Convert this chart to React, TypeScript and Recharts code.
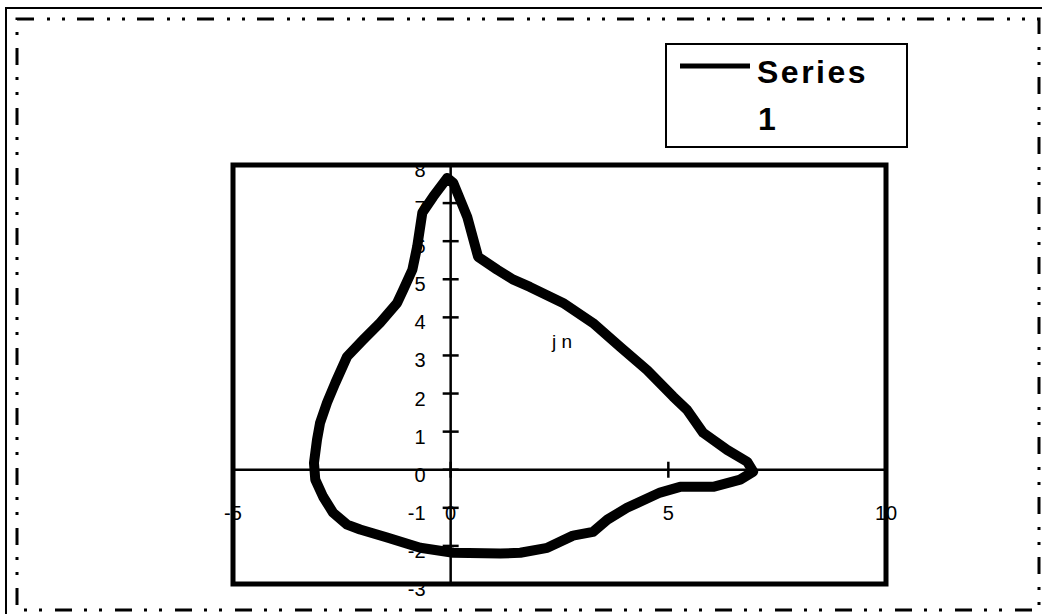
import { LineChart, Line, XAxis, YAxis, ReferenceArea, ReferenceLine, ReferenceDot, Legend } from 'recharts'

// outline of the closed curve, traced clockwise from the top point
const xValues = [
  -0.08, 0.06, 0.38, 0.63, 1.07, 1.44, 1.82, 2.58, 3.27, 3.89, 4.51, 5.11, 5.43,
  5.8, 6.35, 6.81, 6.95, 6.65, 6.03, 5.27, 4.81, 4.05, 3.6, 3.27, 2.81, 2.22,
  1.6, 1.14, 0.06, -0.7, -1.46, -2.08, -2.38, -2.7, -2.93, -3.11, -3.14, -3.07,
  -3.0, -2.84, -2.65, -2.38, -2.01, -1.62, -1.23, -1.09, -0.88, -0.77, -0.65,
  -0.4, -0.08,
]
const yValues = [
  7.66, 7.53, 6.64, 5.59, 5.25, 4.99, 4.8, 4.38, 3.85, 3.23, 2.62, 1.92, 1.57,
  0.97, 0.52, 0.21, -0.05, -0.26, -0.45, -0.45, -0.6, -1.0, -1.31, -1.63, -1.73,
  -2.05, -2.18, -2.2, -2.18, -2.05, -1.78, -1.57, -1.44, -1.13, -0.71, -0.26,
  0.18, 0.79, 1.23, 1.76, 2.28, 2.97, 3.41, 3.86, 4.38, 4.72, 5.25, 5.85, 6.75,
  7.17, 7.66,
]

const xTicks = [-5, 0, 5, 10]
const yTicks = [-3, -2, -1, 0, 1, 2, 3, 4, 5, 6, 7, 8]
const seriesName = 'Series 1'
const noteText = 'j n'
const noteX = 2.56
const noteY = 3.36

const X_MIN = -5
const X_MAX = 10
const Y_MIN = -3
const Y_MAX = 8

const W = 1042
const H = 614
const M = { top: 165, right: 156, bottom: 20, left: 223 }
const AXIS_SIZE = 10
const PLOT_LEFT = M.left + AXIS_SIZE
const PLOT_TOP = M.top
const PLOT_W = W - PLOT_LEFT - M.right
const PLOT_H = H - M.top - M.bottom - AXIS_SIZE
// where the zero lines sit, used to put the tick labels next to them
const ZERO_X = PLOT_LEFT + ((0 - X_MIN) / (X_MAX - X_MIN)) * PLOT_W
const ZERO_Y = PLOT_TOP + ((Y_MAX - 0) / (Y_MAX - Y_MIN)) * PLOT_H

const FONT = '"Liberation Sans", Arial, sans-serif'

const data = xValues.map((x, i) => ({ x, y: yValues[i] }))

function XTick(props: any) {
  const { x, payload } = props
  return (
    <g>
      <line x1={x} x2={x} y1={ZERO_Y - 8} y2={ZERO_Y + 8} stroke="#000" strokeWidth={2.5} />
      <text x={x} y={ZERO_Y + 50} textAnchor="middle" fontSize={20} fontFamily={FONT} fill="#000">
        {payload.value}
      </text>
    </g>
  )
}

function YTick(props: any) {
  const { y, payload } = props
  return (
    <g>
      <line x1={ZERO_X - 8} x2={ZERO_X + 8} y1={y} y2={y} stroke="#000" strokeWidth={2.5} />
      <text x={ZERO_X - 25} y={y + 12} textAnchor="end" fontSize={20} fontFamily={FONT} fill="#000">
        {payload.value}
      </text>
    </g>
  )
}

const renderLegend = () => (
  <svg width={243} height={105}>
    <rect x={1} y={1} width={241} height={103} fill="#fff" stroke="#000" strokeWidth={2} />
    <line x1={15} x2={85} y1={23} y2={23} stroke="#000" strokeWidth={5} />
    {seriesName.split(' ').map((word, i) => (
      <text
        key={word}
        x={i === 0 ? 92 : 93}
        y={i === 0 ? 40 : 87}
        fontSize={32}
        fontWeight="bold"
        letterSpacing={i === 0 ? 2.5 : 0}
        fontFamily={FONT}
        fill="#000"
      >
        {word}
      </text>
    ))}
  </svg>
)

export default function App() {
  return (
    <div style={{ position: 'absolute', left: 0, top: 0, width: W, height: H, background: '#fff' }}>
      <LineChart width={W} height={H} data={data} margin={M}>
        <XAxis
          type="number"
          dataKey="x"
          domain={[X_MIN, X_MAX]}
          ticks={xTicks}
          height={AXIS_SIZE}
          axisLine={false}
          tickLine={false}
          tick={<XTick />}
          interval={0}
        />
        <YAxis
          type="number"
          domain={[Y_MIN, Y_MAX]}
          ticks={yTicks}
          width={AXIS_SIZE}
          axisLine={false}
          tickLine={false}
          tick={<YTick />}
          interval={0}
        />
        <ReferenceArea x1={X_MIN} x2={X_MAX} y1={Y_MIN} y2={Y_MAX} fill="none" fillOpacity={0} stroke="#000" strokeWidth={5} />
        <ReferenceLine x={0} stroke="#000" strokeWidth={2.5} />
        <ReferenceLine y={0} stroke="#000" strokeWidth={2.5} />
        <Line
          type="linear"
          dataKey="y"
          name={seriesName}
          stroke="#000"
          strokeWidth={10}
          strokeLinejoin="round"
          strokeLinecap="round"
          dot={false}
          activeDot={false}
          isAnimationActive={false}
        />
        <ReferenceDot
          x={noteX}
          y={noteY}
          r={0}
          shape={(p: any) => (
            <text x={p.cx} y={p.cy + 6} textAnchor="middle" fontSize={19} fontFamily={FONT} fill="#000">
              {noteText}
            </text>
          )}
        />
        <Legend
          content={renderLegend}
          layout="horizontal"
          verticalAlign="middle"
          align="center"
          wrapperStyle={{ position: 'absolute', left: 665, top: 43, width: 243, height: 105 }}
        />
      </LineChart>
      <svg width={W} height={H} style={{ position: 'absolute', left: 0, top: 0, pointerEvents: 'none' }}>
        <line x1={6} x2={6} y1={7} y2={H} stroke="#000" strokeWidth={2} />
        <line x1={5} x2={W} y1={8} y2={8} stroke="#000" strokeWidth={2} />
        <rect
          x={17}
          y={19}
          width={1022}
          height={591}
          fill="none"
          stroke="#000"
          strokeWidth={3}
          strokeDasharray="17 13 3 12 3 12"
        />
      </svg>
    </div>
  )
}
